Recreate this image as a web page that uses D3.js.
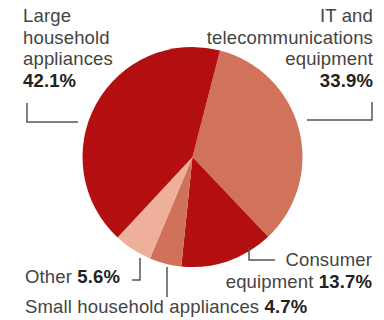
<!DOCTYPE html>
<html>
<head>
<meta charset="utf-8">
<script src="https://cdn.jsdelivr.net/npm/d3@7/dist/d3.min.js"></script>
<style>
  html, body { margin: 0; padding: 0; background: #fff; }
  svg text { font-family: "Liberation Sans", Arial, Helvetica, sans-serif; fill: #444; letter-spacing: 0.15px; }
  svg text .pct { font-weight: bold; fill: #222; }
</style>
</head>
<body>
<svg id="chart" width="384" height="320"></svg>
<script>
// Share of waste by product category (%), clockwise from the top
const categories = [
  "IT and telecommunications equipment",
  "Consumer equipment",
  "Small household appliances",
  "Other",
  "Large household appliances"
];
const values = [33.9, 13.7, 4.7, 5.6, 42.1];
const sliceColors = ["#d1735a", "#b40f10", "#d0715a", "#eeb09b", "#b40f10"];

const W = 384, H = 320;
const cx = 192.5, cy = 157, R = 110;
const svg = d3.select("#chart");

const start = 0.253;
const pie = d3.pie().sort(null).value(d => d.v)
  .startAngle(start).endAngle(start + 2 * Math.PI);
const arc = d3.arc().innerRadius(0).outerRadius(R);

const data = categories.map((c, i) => ({ c, v: values[i], col: sliceColors[i] }));

svg.append("g").attr("transform", `translate(${cx},${cy})`)
  .selectAll("path").data(pie(data)).join("path")
  .attr("d", arc)
  .attr("fill", d => d.data.col);

const fs = 18.5;
const fmt = v => v.toFixed(1) + "%";

// multi-line label helper: lines is array of arrays of [text, isPct]
function label(x, y, anchor, lines, lh) {
  const t = svg.append("text").attr("x", x).attr("y", y)
    .attr("text-anchor", anchor).style("font-size", fs + "px");
  lines.forEach((parts, i) => {
    parts.forEach((p, j) => {
      const ts = t.append("tspan").text(p[0]);
      if (j === 0) ts.attr("x", x).attr("dy", i === 0 ? 0 : lh);
      if (p[1]) ts.attr("class", "pct");
    });
  });
}

const leader = pts => svg.append("path")
  .attr("d", d3.line()(pts))
  .attr("fill", "none").attr("stroke", "#555").attr("stroke-width", 1.5);

// Large household appliances
label(23, 22, "start", [[["Large"]], [["household"]], [["appliances"]], [[fmt(values[4]), true]]], 21.5);
leader([[27, 103], [27, 122], [78, 122]]);

// IT and telecommunications
label(373, 22, "end", [[["IT and"]], [["telecommunications"]], [["equipment"]], [[fmt(values[0]), true]]], 21.5);
leader([[372, 102], [372, 120], [307, 120]]);

// Consumer equipment
label(372, 266, "end", [[["Consumer"]], [["equipment "], [fmt(values[1]), true]]], 22);
leader([[249, 247], [249, 260], [275, 260]]);

// Other
label(25, 283, "start", [[["Other "], [fmt(values[3]), true]]], 0);
leader([[140, 258], [140, 280], [132, 280]]);

// Small household appliances
label(25, 313, "start", [[["Small household appliances "], [fmt(values[2]), true]]], 0);
leader([[167, 267], [167, 297]]);
</script>
</body>
</html>
